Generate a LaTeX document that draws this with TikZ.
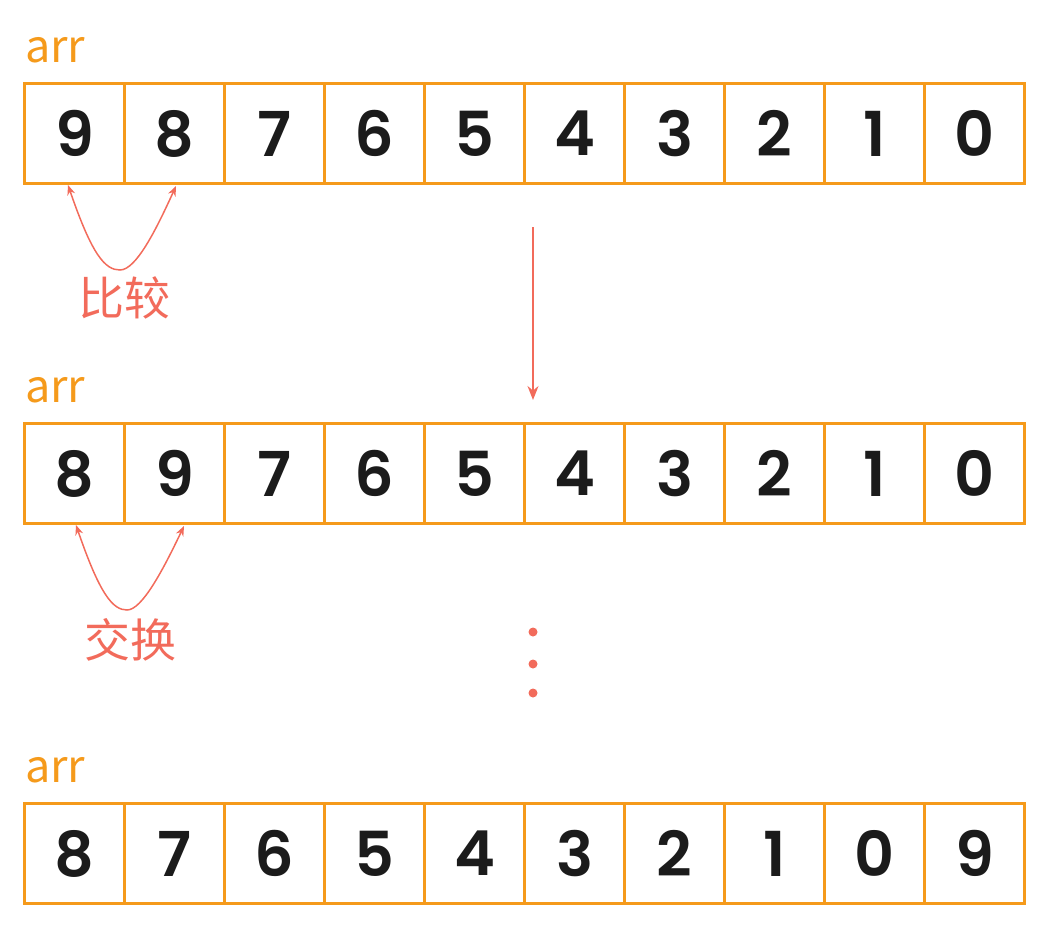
\documentclass[tikz,border=0pt]{standalone}
\usepackage{fontspec}
\setmainfont{Poppins}
\newfontfamily\dig{Poppins SemiBold}
\newfontfamily\cjk{Noto Sans CJK SC}
\usetikzlibrary{arrows.meta}
\definecolor{org}{HTML}{F59A1B}
\definecolor{sal}{HTML}{F26B5B}
\definecolor{ink}{HTML}{1B1B1B}
\tikzset{
  cell/.style={draw=org, line width=3.2pt, minimum width=100pt, minimum height=100pt, inner sep=0pt, anchor=north west, text=ink, font=\dig\fontsize{62}{62}\selectfont},
  arrlbl/.style={text=org, font=\cjk\fontsize{45}{45}\selectfont, anchor=base west, inner sep=0pt},
  cjklbl/.style={text=sal, font=\cjk\fontsize{46}{46}\selectfont, inner sep=0pt},
  conn/.style={draw=sal, line width=1.5pt, {Stealth[length=10pt,width=8pt]}-{Stealth[length=10pt,width=8pt]}},
  down/.style={draw=sal, line width=1.5pt, -{Stealth[length=14pt,width=11pt]}},
  dot/.style={circle, fill=sal, inner sep=0pt, minimum size=9pt}
}
\begin{document}
\begin{tikzpicture}[x=1pt,y=-1pt]
\useasboundingbox (0,0) rectangle (1047,926);
\node[arrlbl] (l1) at (25,62) {arr};
\node[arrlbl] (l2) at (25,402) {arr};
\node[arrlbl] (l3) at (25,782) {arr};
\foreach \v [count=\i from 0] in {9,8,7,6,5,4,3,2,1,0} {
  \node[cell] (a\i) at (23+100*\i,82) {\v};
}
\foreach \v [count=\i from 0] in {8,9,7,6,5,4,3,2,1,0} {
  \node[cell] (b\i) at (23+100*\i,422) {\v};
}
\foreach \v [count=\i from 0] in {8,7,6,5,4,3,2,1,0,9} {
  \node[cell] (c\i) at (23+100*\i,802) {\v};
}
\coordinate (p1) at (68,185);
\coordinate (q1) at (176,186);
\coordinate (p2) at (76,525);
\coordinate (q2) at (184,526);
\draw[conn] (p1) .. controls (92,255) and (105,270) .. (120,270) .. controls (136,270) and (156,230) .. (q1);
\draw[conn] (p2) .. controls (100,595) and (113,610) .. (127,610) .. controls (142,610) and (163,570) .. (q2);
\node[cjklbl] (t1) at (124,298) {比较};
\node[cjklbl] (t2) at (130,640) {交换};
\coordinate (s) at (533,227);
\coordinate (e) at (533,400);
\draw[down] (s) -- (e);
\node[dot] (d1) at (533,632) {};
\node[dot] (d2) at (533,664) {};
\node[dot] (d3) at (533,693) {};
\end{tikzpicture}
\end{document}
